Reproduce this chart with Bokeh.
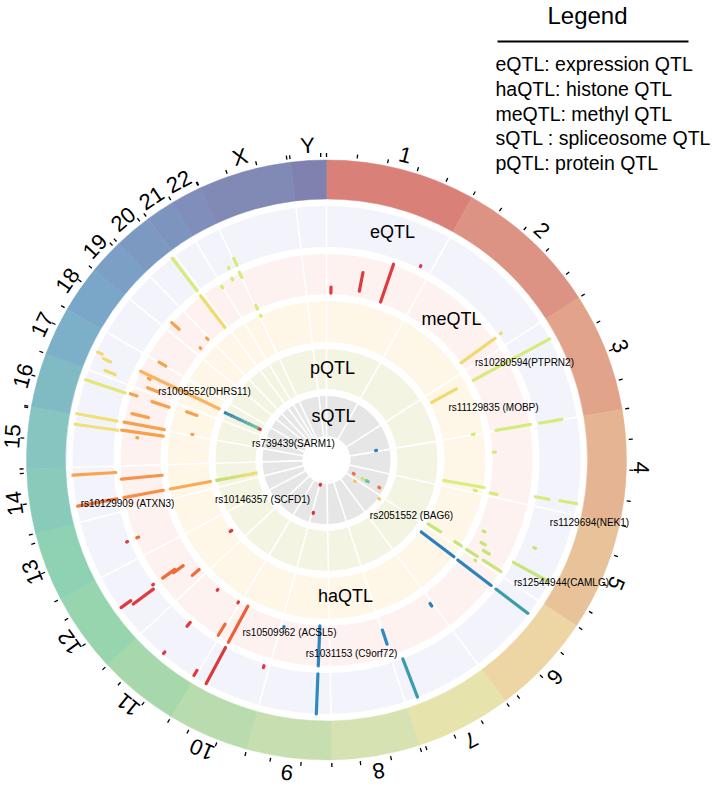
import numpy as np
from bokeh.plotting import figure
from bokeh.models import Range1d
from bokeh.embed import file_html
from bokeh.resources import INLINE
from bokeh.core.properties import value

# ---------------- data ----------------
chrom_names = ["1", "2", "3", "4", "5", "6", "7", "8", "9", "10", "11", "12",
               "13", "14", "15", "16", "17", "18", "19", "20", "21", "22", "X", "Y"]
chrom_len_mb = [249.25, 243.20, 198.02, 191.15, 180.92, 171.12, 159.14, 146.36,
                141.21, 135.53, 135.01, 133.85, 115.17, 107.35, 102.53, 90.35,
                81.20, 78.08, 59.13, 63.03, 48.13, 51.30, 155.27, 59.37]
chrom_colors = ["#D98079", "#DD9383", "#E1A48B", "#E5B593", "#E8C399", "#EDD5A4",
                "#E6E3AD", "#D6E2B1", "#C7DFB0", "#B8DCAE", "#A6D8AB", "#97D5AE",
                "#8ED1B3", "#88CBBB", "#87C5C0", "#80BAC3", "#7CB0C8", "#7AA7C8",
                "#7B9FC5", "#7C99C1", "#7D94BF", "#7F8EBB", "#8189B5", "#8081AE"]

track_names = ["sQTL", "pQTL", "haQTL", "meQTL", "eQTL"]
track_fill = ["#E6E6E6", "#F4F4E2", "#FEF7E8", "#FEF2F0", "#F3F3FC"]

legend_title = "Legend"
legend_lines = ["eQTL: expression QTL", "haQTL: histone QTL", "meQTL: methyl QTL",
                "sQTL : spliceosome QTL", "pQTL: protein QTL"]

snp_labels = ["rs10280594(PTPRN2)", "rs11129835 (MOBP)", "rs1129694(NEK1)",
              "rs12544944(CAMLG)", "rs2051552 (BAG6)", "rs1031153 (C9orf72)",
              "rs10509962 (ACSL5)", "rs10146357 (SCFD1)", "rs10129909 (ATXN3)",
              "rs1005552(DHRS11)", "rs739439(SARM1)"]

# QTL hits: chromosome, position (Mb), radial extent (start, end) on the track scale
qtl_chrom = ["1", "1", "1", "1", "2", "2", "3", "3", "3", "3", "3", "4",
             "4", "4", "4", "4", "4", "5", "5", "5", "5", "5", "5", "5", "5", "5", "6",
             "6", "6", "6", "7", "7", "7", "9", "9", "9",
             "10", "10", "10", "11", "11", "11", "11", "11", "11",
             "12", "12", "12", "12", "12", "12", "12", "13", "13",
             "14", "14", "14", "14", "14", "15", "15", "15",
             "16", "16", "16", "16", "16", "16", "16", "16",
             "17", "17", "17", "17", "17", "17", "17", "18", "19", "19", "19",
             "20", "20", "21", "22", "22", "X", "X", "X", "X",
             "9", "9", "3", "5", "6", "5", "5", "5", "6"]
qtl_mb = [162.5, 94.6, 222.7, 12.9, 216.8, 215.1, 36.4, 34.7, 196.3, 197.2, 196.3, 60.2,
          168.6, 183.2, 181.4, 169.4, 168.6, 139.1, 89.2, 102.1, 133.9, 150.3, 172.6, 172.6, 171.8, 169.2, 3.7,
          31.3, 32.1, 32.1, 6.3, 157.7, 133.6, 28.4, 28.4, 131.6,
          12.8, 110.8, 110.8, 4.5, 5.4, 3.7, 75.9, 75.9, 76.7,
          20.9, 57.8, 63.0, 55.2, 63.8, 63.8, 56.1, 45.2, 45.2,
          31.5, 31.5, 31.5, 92.6, 76.2, 84.1, 85.8, 72.1,
          2.2, 3.1, 4.8, 27.2, 70.2, 71.0, 72.7, 75.3,
          10.8, 10.8, 31.8, 38.7, 33.1, 40.9, 34.9, 0.9, 20.0, 20.0, 53.6,
          55.5, 54.6, 46.6, 33.8, 29.5, 2.2, 0.5, 3.1, 4.0,
          129.1, 129.1, 188.6, 122.8, 27.8, 127.9, 128.8, 128.8, 24.4]
qtl_r_from = [167, 172, 215, 167, 166, 215, 167, 120, 172, 216, 148, 167,
              119, 151, 167, 212, 237, 213, 225, 172, 175, 181, 186, 166, 152, 120, 179,
              119, 165, 213, 177, 179, 213, 166, 214, 172,
              215, 166, 213, 193, 167, 247, 169, 212, 251,
              168, 178, 187, 216, 241, 213, 118, 215, 203,
              213, 166, 118, 211, 165, 211, 165, 190,
              213, 165, 136, 183, 212, 166, 200, 137,
              228, 182, 237, 248, 194, 119, 73, 186, 197, 168, 169,
              213, 167, 201, 215, 203, 214, 201, 166, 158,
              25, 54, 50, 30, 35, 40, 45, 59, 65]
qtl_r_to = [207, 191, 216, 173, 208, 216, 254, 148, 207, 239, 150, 169,
            160, 153, 174, 226, 254, 253, 227, 174, 180, 188, 207, 179, 160, 135, 180,
            160, 207, 253, 180, 194, 254, 206, 254, 173,
            217, 207, 254, 206, 168, 253, 170, 217, 253,
            177, 190, 202, 241, 253, 214, 120, 216, 205,
            253, 206, 159, 254, 206, 254, 207, 191,
            254, 206, 137, 200, 254, 184, 207, 148,
            239, 193, 245, 253, 196, 206, 75, 194, 207, 169, 171,
            254, 207, 203, 216, 205, 222, 207, 170, 159,
            26, 55, 51, 31, 36, 42, 47, 60, 66]
qtl_color = ["#DF3B3F", "#DF3B3F", "#DF3B3F", "#DF3B3F", "#F1D96E", "#F1D96E",
             "#D5EB7B", "#F1D96E", "#D5EB7B", "#D5EB7B", "#D5EB7B", "#D5EB7B",
             "#DCEC80", "#D5EB7B", "#D5EB7B", "#D5EB7B", "#D5EB7B",
             "#C7E57A", "#C7E57A", "#C7E57A", "#C7E57A", "#C7E57A", "#C7E57A",
             "#C7E57A", "#C7E57A", "#C7E57A", "#C7E57A",
             "#2C81BC", "#2C84BE", "#3A9EAA", "#2C81BC", "#2C8AC2", "#3A9BB2",
             "#2B85C0", "#2D89BE", "#2C81BC",
             "#DF3B3F", "#EE5E3B", "#DA3A3E", "#F06B3C", "#DF3B3F", "#DF3B3F",
             "#DF3B3F", "#DF3B3F", "#DF3B3F",
             "#F06B3A", "#F06B3A", "#F06B3A", "#DF3B3F", "#DF3B3F", "#DF3B3F",
             "#DF3B3F", "#DF3B3F", "#F06B3A",
             "#F47C40", "#F68E47", "#FAAA57", "#F9A54E", "#F7934A", "#EEE07A",
             "#F9A04C", "#F9A04C",
             "#EEE07A", "#F9A04C", "#F9A04C", "#F9A04C", "#E3E67A", "#F9A04C",
             "#F9A04C", "#F9A04C",
             "#EEDC72", "#F9A04C", "#EEDC72", "#EEDC72", "#F9A04C", "#FBB360",
             "#E0303E", "#F9A04C", "#F9A04C", "#F9A04C", "#F9A04C",
             "#D5EB7B", "#EEDC6E", "#D5EB7B", "#D5EB7B", "#D5EB7B", "#D5EB7B",
             "#D5EB7B", "#D5EB7B", "#D5EB7B",
             "#E0303E", "#E0303E", "#2C81BC", "#F46D43", "#FDC35C", "#C7E57A",
             "#66C2A5", "#F46D43", "#FDC35C"]

# Colour-graded links in the pQTL track (SCFD1, DHRS11)
grad_chrom = ["14", "17"]
grad_mb = [31.5, 36.6]
grad_r_from = [70, 75]
grad_r_to = [113, 113]
grad_color_inner = ["#EEDF74", "#6CC4A4"]
grad_color_outer = ["#B9DF72", "#2B7BBA"]

# ---------------- geometry ----------------
W, H = 713, 787


def Y(img_y):
    return H - img_y


CX, CY = 326.0, Y(459.5)
track_r_in = [24, 71, 118, 166, 213]
track_r_out = [64, 111, 159, 206, 254]
RING_IN, RING_OUT = 261, 300

deg_per_mb = 360.0 / sum(chrom_len_mb)
chrom_start = np.concatenate([[0.0], np.cumsum(chrom_len_mb)[:-1]])
chrom_index = {n: i for i, n in enumerate(chrom_names)}


def theta(ch, mb):
    return (chrom_start[chrom_index[ch]] + mb) * deg_per_mb


def polar(th_deg, r):
    t = np.radians(th_deg)
    return CX + r * np.sin(t), CY + r * np.cos(t)


p = figure(width=W, height=H, x_range=Range1d(0, W), y_range=Range1d(0, H),
           output_backend="svg", toolbar_location=None, min_border=0)
p.axis.visible = False
p.grid.visible = False
p.outline_line_color = None
p.min_border_left = p.min_border_right = p.min_border_top = p.min_border_bottom = 0

FONT = value("Liberation Sans")

# track backgrounds
p.annulus(x=[CX] * 5, y=[CY] * 5, inner_radius=track_r_in, outer_radius=track_r_out,
          fill_color=track_fill, line_color=None)

# chromosome boundaries (spokes)
bounds = [s * deg_per_mb for s in chrom_start]
sx0, sy0 = polar(np.array(bounds), 20)
sx1, sy1 = polar(np.array(bounds), 256)
p.segment(x0=sx0, y0=sy0, x1=sx1, y1=sy1, line_color="white", line_width=1.6)

# outer ideogram ring
th_s = np.array(bounds)
th_e = np.array(bounds[1:] + [360.0])
p.annular_wedge(x=[CX] * 24, y=[CY] * 24, inner_radius=RING_IN, outer_radius=RING_OUT,
                start_angle=np.radians(90 - th_e), end_angle=np.radians(90 - th_s),
                fill_color=chrom_colors, line_color=chrom_colors, line_width=0.5)

# ticks every 50 Mb
tick_th = []
for i, L in enumerate(chrom_len_mb):
    for mb in np.arange(0, L, 50):
        tick_th.append(theta(chrom_names[i], mb))
tick_th = np.array(tick_th)
tx0, ty0 = polar(tick_th, 303)
tx1, ty1 = polar(tick_th, 307)
p.segment(x0=tx0, y0=ty0, x1=tx1, y1=ty1, line_color="black", line_width=1.3)

# chromosome labels
mid = (th_s + th_e) / 2
lx, ly = polar(mid, 315)
p.text(x=lx, y=ly, text=chrom_names, angle=-np.radians(mid), text_align="center",
       text_baseline="middle", text_font=FONT, text_font_size="22px", text_color="black")

# QTL segments
qth = np.array([theta(c, m) for c, m in zip(qtl_chrom, qtl_mb)])
qx0, qy0 = polar(qth, np.array(qtl_r_from, dtype=float))
qx1, qy1 = polar(qth, np.array(qtl_r_to, dtype=float))
p.segment(x0=qx0, y0=qy0, x1=qx1, y1=qy1, line_color=qtl_color, line_width=3.2,
          line_cap="round")


def hex2rgb(h):
    return np.array([int(h[1:3], 16), int(h[3:5], 16), int(h[5:7], 16)], dtype=float)


N = 12
gx0, gy0, gx1, gy1, gcol = [], [], [], [], []
for c, m, r0, r1, ci, co in zip(grad_chrom, grad_mb, grad_r_from, grad_r_to,
                                grad_color_inner, grad_color_outer):
    th = theta(c, m)
    a, b = hex2rgb(ci), hex2rgb(co)
    for k in range(N):
        ra = r0 + (r1 - r0) * k / N
        rb = r0 + (r1 - r0) * (k + 1) / N
        x0, y0 = polar(th, ra)
        x1, y1 = polar(th, rb)
        f = (k + 0.5) / N
        rgb = a + (b - a) * f
        gx0.append(x0); gy0.append(y0); gx1.append(x1); gy1.append(y1)
        gcol.append("#%02X%02X%02X" % tuple(int(round(v)) for v in rgb))
p.segment(x0=gx0, y0=gy0, x1=gx1, y1=gy1, line_color=gcol, line_width=3.2, line_cap="butt")

# track names
p.text(x=[392, 451, 345, 332, 333], y=[Y(231), Y(318), Y(595), Y(367), Y(415)],
       text=["eQTL", "meQTL", "haQTL", "pQTL", "sQTL"], text_align="center",
       text_baseline="middle", text_font=FONT, text_font_size="18px", text_color="black")

# SNP annotations
snp_x = [524, 493, 589, 561, 411, 351, 289, 262, 127, 204, 293]
snp_y = [362, 407, 522, 582, 515, 653, 632, 499, 503, 391, 443]
p.text(x=snp_x, y=[Y(v) for v in snp_y], text=snp_labels, text_align="center",
       text_baseline="middle", text_font=FONT, text_font_size="10px", text_color="black")

# legend
p.text(x=[587], y=[Y(15)], text=[legend_title], text_align="center",
       text_baseline="middle", text_font=FONT, text_font_size="24px", text_color="black")
p.segment(x0=[497], y0=[Y(41)], x1=[688], y1=[Y(41)], line_color="black", line_width=2)
p.text(x=[495] * 5, y=[Y(v) for v in [63, 88.5, 113, 137.5, 162]], text=legend_lines,
       text_align="left", text_baseline="middle", text_font=FONT,
       text_font_size="19.5px", text_color="black")

open("out.html", "w").write(file_html(p, INLINE))
